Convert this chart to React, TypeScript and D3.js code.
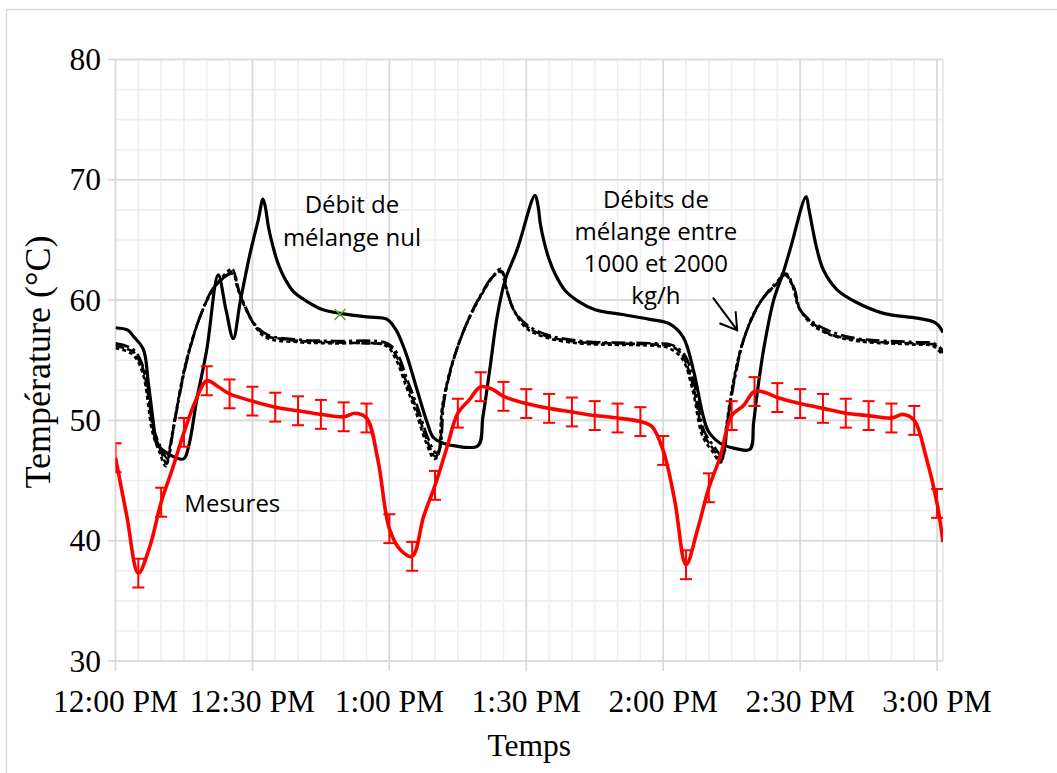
import React from "react";
import * as d3 from "d3";

// Time axis in minutes after 12:00 PM, temperatures in °C.
const tickMinutes = [0, 30, 60, 90, 120, 150, 180];
const tickLabels = ["12:00 PM", "12:30 PM", "1:00 PM", "1:30 PM", "2:00 PM", "2:30 PM", "3:00 PM"];
const yTicks = [30, 40, 50, 60, 70, 80];

// Simulation without mixing flow ("Débit de mélange nul")
const debitNul: [number, number][] = [
  [0, 57.7], [2.7, 57.5], [3.9, 57.0], [6.1, 55.9], [7.2, 53.1], [8.3, 49.8], [9.0, 48.1],
  [11.2, 47.3], [14.9, 46.8], [16.0, 47.8], [17.8, 51.7], [20.0, 55.9], [22.5, 62.1],
  [24.2, 59.2], [25.8, 56.8], [27.3, 59.8], [29.5, 63.9], [31.3, 66.7], [32.3, 68.4],
  [32.8, 67.8], [33.5, 66.1], [34.2, 64.9], [35.3, 63.4], [36.8, 62.0], [39.0, 60.7],
  [41.9, 59.9], [45.5, 59.2], [49.2, 58.9], [55.1, 58.6], [59.5, 58.4], [61.5, 57.5],
  [62.6, 56.6], [63.9, 55.3], [66.1, 52.5], [68.3, 49.8], [69.6, 48.6], [71.8, 48.1],
  [74.0, 47.9], [79.4, 47.9], [80.5, 50.3], [82.1, 54.5], [83.6, 58.6], [85.4, 61.7],
  [88.0, 64.2], [91.9, 68.7], [92.5, 68.0], [93.1, 66.3], [93.8, 65.0], [94.9, 63.5],
  [96.4, 62.1], [98.5, 60.8], [101.4, 59.9], [105.1, 59.2], [111.0, 58.8], [117.1, 58.4],
  [121.5, 58.0], [124.4, 56.9], [126.6, 54.2], [128.8, 50.3], [129.9, 49.1], [132.5, 48.1],
  [135.4, 47.7], [139.0, 47.6], [139.8, 49.8], [140.5, 52.0], [142.0, 55.9], [144.2, 60.0],
  [146.3, 62.3], [147.8, 64.2], [151.3, 68.6], [151.9, 67.6], [152.6, 66.2], [153.7, 64.2],
  [155.1, 62.5], [158.0, 60.9], [162.4, 59.8], [168.3, 58.9], [175.6, 58.5], [179.2, 58.2],
  [180.3, 57.9], [181.3, 57.3],
];

// Simulations with mixing flows between 1000 and 2000 kg/h
const debit1000: [number, number][] = [
  [0, 56.2], [2.0, 56.0], [3.9, 55.7], [5.0, 55.1], [6.1, 54.2], [7.2, 52.0], [8.3, 49.2],
  [9.8, 47.6], [11.2, 46.4], [12.2, 48.3], [13.4, 50.9], [15.6, 55.0], [18.5, 58.6],
  [21.4, 60.9], [25.1, 62.3], [25.8, 62.4], [26.8, 61.0], [28.0, 59.8], [30.2, 58.1],
  [33.1, 57.0], [36.0, 56.8], [40.4, 56.6], [47.7, 56.5], [55.0, 56.4], [59.4, 56.3],
  [60.6, 55.9], [61.6, 55.3], [63.8, 53.1], [66.0, 50.9], [68.2, 48.4], [70.0, 47.0],
  [70.8, 47.3], [71.8, 51.4], [74.0, 55.0], [77.0, 58.1], [79.9, 60.3], [82.8, 62.0],
  [84.6, 62.4], [85.6, 61.0], [87.2, 59.2], [90.1, 57.8], [94.5, 57.0], [101.8, 56.5],
  [110.0, 56.4], [118.2, 56.3], [121.5, 56.2], [123.0, 55.9], [124.4, 55.3], [126.6, 52.8],
  [128.8, 48.9], [131.0, 47.6], [132.8, 46.7], [133.9, 49.5], [135.4, 53.1], [137.6, 56.7],
  [141.2, 59.8], [144.9, 61.4], [146.7, 62.1], [148.5, 61.1], [150.0, 59.2], [153.7, 57.8],
  [157.0, 57.1], [160.9, 56.8], [168.0, 56.5], [175.6, 56.4], [179.2, 56.3], [180.5, 56.0],
  [181.3, 55.6],
];

const debit1500: [number, number][] = [
  [0, 56.4], [3.9, 55.9], [6.3, 54.2], [8.5, 49.2], [10.0, 47.7], [11.4, 46.8], [12.4, 48.6],
  [13.6, 51.2], [15.8, 55.2], [18.7, 58.8], [21.6, 61.1], [25.3, 62.2], [26.1, 62.1],
  [27.1, 60.7], [28.3, 59.6], [30.5, 58.0], [33.4, 57.1], [40.6, 56.7], [47.9, 56.6],
  [59.6, 56.4], [61.8, 55.5], [64.0, 53.3], [66.2, 51.1], [68.4, 48.6], [70.2, 47.3],
  [71.0, 47.6], [72.0, 51.6], [74.2, 55.2], [77.2, 58.3], [80.1, 60.5], [83.0, 62.1],
  [84.8, 62.3], [85.8, 60.8], [87.4, 59.1], [90.3, 57.9], [94.7, 57.1], [102.0, 56.6],
  [118.4, 56.4], [121.7, 56.3], [124.6, 55.5], [126.8, 53.0], [129.0, 49.1], [131.2, 47.8],
  [133.0, 47.0], [134.1, 49.8], [135.6, 53.3], [137.8, 56.9], [141.4, 59.9], [145.1, 61.6],
  [146.9, 62.2], [148.7, 61.0], [150.2, 59.1], [153.9, 57.9], [161.1, 56.9], [175.8, 56.5],
  [179.4, 56.4], [181.3, 55.8],
];

const debit2000: [number, number][] = [
  [0, 56.0], [3.7, 55.5], [5.9, 54.0], [8.1, 49.0], [9.6, 47.4], [11.0, 46.2], [12.0, 48.0],
  [13.2, 50.6], [15.4, 54.8], [18.3, 58.4], [21.2, 60.8], [24.9, 62.5], [25.6, 62.6],
  [26.6, 61.2], [27.8, 59.9], [30.0, 58.2], [32.9, 56.9], [40.2, 56.5], [47.5, 56.4],
  [59.2, 56.2], [61.4, 55.1], [63.6, 52.9], [65.8, 50.7], [68.0, 48.2], [69.8, 46.8],
  [70.6, 47.0], [71.6, 51.2], [73.8, 54.8], [76.8, 57.9], [79.7, 60.1], [82.6, 61.9],
  [84.4, 62.6], [85.4, 61.2], [87.0, 59.4], [89.9, 57.7], [94.3, 56.9], [101.6, 56.4],
  [118.0, 56.2], [121.3, 56.0], [124.2, 55.1], [126.4, 52.6], [128.6, 48.7], [130.8, 47.4],
  [132.6, 46.5], [133.7, 49.2], [135.2, 52.9], [137.4, 56.5], [141.0, 59.7], [144.7, 61.3],
  [146.5, 62.3], [148.3, 61.2], [149.8, 59.3], [153.5, 57.7], [160.7, 56.7], [175.4, 56.3],
  [179.0, 56.2], [181.3, 55.4],
];

// Measured temperatures ("Mesures") and their uncertainty
const mesures: [number, number][] = [
  [0, 46.9], [2.5, 42.0], [5, 37.3], [7.5, 39.5], [10, 43.2], [12.5, 46.0], [15, 49.0],
  [17.5, 51.6], [20, 53.3], [22.5, 52.8], [25, 52.2], [30, 51.6], [35, 51.1], [40, 50.8],
  [45, 50.5], [50, 50.3], [52.5, 50.6], [55, 50.2], [57.5, 46.7], [60, 41.0], [62.5, 39.2],
  [65, 38.7], [67.5, 42.0], [70, 44.6], [72.5, 47.6], [75, 50.6], [77.5, 51.7], [80, 52.8],
  [82.5, 52.6], [85, 52.0], [90, 51.4], [95, 51.0], [100, 50.7], [105, 50.4], [110, 50.2],
  [115, 49.9], [117.5, 49.5], [120, 47.5], [122.5, 43.4], [125, 38.0], [127.5, 40.9],
  [130, 44.4], [132.5, 47.0], [135, 50.4], [137.5, 51.2], [140, 52.4], [142.5, 52.3],
  [145, 51.9], [150, 51.4], [155, 51.0], [160, 50.6], [165, 50.4], [170, 50.2], [172.5, 50.5],
  [175, 50.0], [177.5, 47.1], [180, 43.1], [181.3, 39.9],
];
const mesureError = 1.2;

const markerPoint: [number, number] = [49.2, 58.8];

const W = 1057;
const H = 773;
const plot = { left: 115.5, right: 943, top: 59.5, bottom: 661 };

const x = d3.scaleLinear().domain([0, 181.3]).range([plot.left, plot.right]);
const y = d3.scaleLinear().domain([30, 80]).range([plot.bottom, plot.top]);

const line = d3
  .line<[number, number]>()
  .x((d) => x(d[0]))
  .y((d) => y(d[1]))
  .curve(d3.curveCatmullRom.alpha(0.5));

const serif = "'Liberation Serif', 'Times New Roman', serif";
const sans = "'Open Sans', 'Noto Sans', sans-serif";

const minorX = d3.range(0, 181, 5);
const minorY = d3.range(30, 80.01, 2.5);

export default function App() {
  const errorPoints = mesures.filter((d) => d[0] % 5 === 0);

  // arrow pointing at the mixing-flow curves
  const a0: [number, number] = [x(130.9), y(60.2)];
  const a1: [number, number] = [x(136.2), y(57.5)];
  const ang = Math.atan2(a0[1] - a1[1], a0[0] - a1[0]);
  const wing = 19;
  const spread = (32 * Math.PI) / 180;
  const w1 = [a1[0] + wing * Math.cos(ang + spread), a1[1] + wing * Math.sin(ang + spread)];
  const w2 = [a1[0] + wing * Math.cos(ang - spread), a1[1] + wing * Math.sin(ang - spread)];

  const mx = x(markerPoint[0]);
  const my = y(markerPoint[1]);

  return (
    <svg
      width={W}
      height={H}
      style={{ position: "absolute", left: 0, top: 0, background: "#fff" }}
    >
      <defs>
        <clipPath id="plotClip">
          <rect x={plot.left} y={plot.top - 2} width={plot.right - plot.left} height={plot.bottom - plot.top + 4} />
        </clipPath>
      </defs>
      {/* outer chart frame */}
      <line x1={6.5} y1={9.5} x2={W} y2={9.5} stroke="#d9d9d9" strokeWidth={1.3} />
      <line x1={6.5} y1={9.5} x2={6.5} y2={H} stroke="#d9d9d9" strokeWidth={1.3} />

      {/* minor gridlines */}
      {minorX.map((m) => (
        <line key={"mx" + m} x1={x(m)} x2={x(m)} y1={plot.top} y2={plot.bottom} stroke="#efefef" strokeWidth={1.6} />
      ))}
      <line x1={plot.right} x2={plot.right} y1={plot.top} y2={plot.bottom} stroke="#e6e6e6" strokeWidth={1.6} />
      {minorY.map((v) => (
        <line key={"my" + v} x1={plot.left} x2={plot.right} y1={y(v)} y2={y(v)} stroke="#efefef" strokeWidth={1.6} />
      ))}
      {/* major gridlines */}
      {tickMinutes.map((m) => (
        <line key={"Mx" + m} x1={x(m)} x2={x(m)} y1={plot.top} y2={plot.bottom} stroke="#d9d9d9" strokeWidth={1.6} />
      ))}
      {yTicks.map((v) => (
        <line key={"My" + v} x1={plot.left} x2={plot.right} y1={y(v)} y2={y(v)} stroke="#d9d9d9" strokeWidth={1.6} />
      ))}
      {/* tick marks */}
      {tickMinutes.map((m) => (
        <line key={"tx" + m} x1={x(m)} x2={x(m)} y1={plot.bottom} y2={plot.bottom + 10} stroke="#d9d9d9" strokeWidth={1.6} />
      ))}
      {yTicks.map((v) => (
        <line key={"ty" + v} x1={plot.left - 8} x2={plot.left} y1={y(v)} y2={y(v)} stroke="#d9d9d9" strokeWidth={1.6} />
      ))}

      {/* series */}
      <g clipPath="url(#plotClip)" fill="none">
        <path d={line(debit1500) || ""} stroke="#000" strokeWidth={2.6} strokeDasharray="14 4 3 4" />
        <path d={line(debit2000) || ""} stroke="#000" strokeWidth={2.6} strokeDasharray="4 3" />
        <path d={line(debit1000) || ""} stroke="#000" strokeWidth={2.6} strokeDasharray="9 3" />
        <path d={line(debitNul) || ""} stroke="#000" strokeWidth={3.2} strokeLinejoin="round" />
        <path d={line(mesures) || ""} stroke="#ff0000" strokeWidth={3.6} strokeLinejoin="round" />
        {errorPoints.map((d) => {
          const cx = x(d[0]);
          const t = y(d[1] + mesureError);
          const b = y(d[1] - mesureError);
          return (
            <g key={"e" + d[0]} stroke="#ff0000" strokeWidth={2}>
              <line x1={cx} x2={cx} y1={t} y2={b} />
              <line x1={cx - 6} x2={cx + 6} y1={t} y2={t} />
              <line x1={cx - 6} x2={cx + 6} y1={b} y2={b} />
            </g>
          );
        })}
      </g>

      {/* marker on the zero-flow curve */}
      <g stroke="#5aa637" strokeWidth={1.6}>
        <line x1={mx - 5.5} y1={my - 5.5} x2={mx + 5.5} y2={my + 5.5} />
        <line x1={mx - 5.5} y1={my + 5.5} x2={mx + 5.5} y2={my - 5.5} />
      </g>

      {/* annotations */}
      <g fontFamily={sans} fontSize={24} fill="#000" textAnchor="middle">
        <text x={x(51.8)} y={y(67.24)}>Débit de</text>
        <text x={x(51.8)} y={y(67.24) + 33}>mélange nul</text>
        <text x={x(118.4)} y={y(67.66)}>Débits de</text>
        <text x={x(118.4)} y={y(67.66) + 32}>mélange entre</text>
        <text x={x(118.4)} y={y(67.66) + 64}>1000 et 2000</text>
        <text x={x(118.4)} y={y(67.66) + 96}>kg/h</text>
        <text x={x(25.6)} y={y(42.4)}>Mesures</text>
      </g>
      <g stroke="#000" strokeWidth={2} fill="none">
        <line x1={a0[0]} y1={a0[1]} x2={a1[0]} y2={a1[1]} />
        <polyline points={`${w1[0]},${w1[1]} ${a1[0]},${a1[1]} ${w2[0]},${w2[1]}`} />
      </g>

      {/* axis labels */}
      <g fontFamily={serif} fontSize={31.5} fill="#000">
        {yTicks.map((v) => (
          <text key={"yl" + v} x={101} y={y(v) + 10.5} textAnchor="end">
            {v}
          </text>
        ))}
        {tickMinutes.map((m, i) => (
          <text key={"xl" + m} x={x(m)} y={711.5} textAnchor="middle">
            {tickLabels[i]}
          </text>
        ))}
        <text x={(plot.left + plot.right) / 2} y={756} textAnchor="middle">
          Temps
        </text>
        <text
          transform={`translate(50, 362) rotate(-90)`}
          textAnchor="middle"
          fontSize={36}
        >
          Température (°C)
        </text>
      </g>
    </svg>
  );
}
